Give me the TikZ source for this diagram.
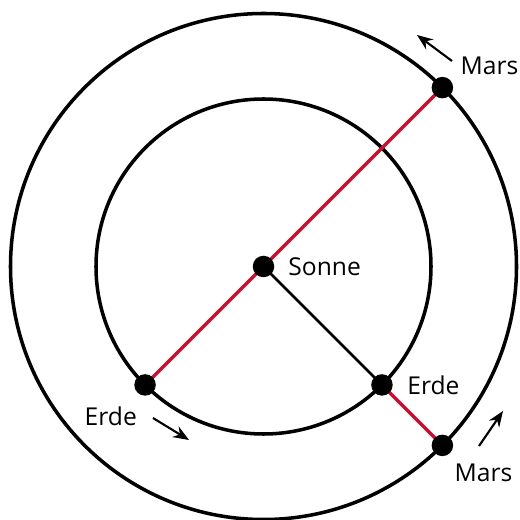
\documentclass[tikz,border=0pt]{standalone}
\usepackage{fontspec}
\setmainfont{Open Sans}
\usepackage{xcolor}
\usetikzlibrary{arrows.meta, positioning}

\definecolor{orbitred}{RGB}{200,16,46}

\begin{document}
\begin{tikzpicture}[
    every node/.style={font=\fontsize{14}{16}\selectfont},
    orbit/.style={draw=black, line width=2pt},
    planet/.style={
        circle,
        fill=black,
        inner sep=0pt,
        minimum size=0.43cm
    },
    tag/.style={inner sep=0pt},
    sightline/.style={draw=orbitred, line width=2pt},
    radius/.style={draw=black, line width=1.5pt},
    motion/.style={line width=1.2pt, -{Stealth[length=9pt, width=7pt]}}
]
\useasboundingbox (-5.27,-5.07) rectangle (5.11,5.33);

% Orbits
\draw[orbit] (0,0) circle (5.06);
\draw[orbit] (0,0) circle (3.35);

\coordinate (sun)   at (0,0);
\coordinate (mA)    at (45:5.06);
\coordinate (eA)    at (225:3.35);
\coordinate (eB)    at (-45:3.35);
\coordinate (mB)    at (-45:5.06);

% Lines
\draw[sightline] (eA) -- (mA);
\draw[radius] (sun) -- (eB);
\draw[sightline] (eB) -- (mB);

\node (sonne) [planet] at (sun) {};
\node (marsA) [planet] at (mA) {};
\node (erdeA) [planet] at (eA) {};
\node (erdeB) [planet] at (eB) {};
\node (marsB) [planet] at (mB) {};

\node (sonneLbl) [tag, right=0.27cm of sonne] {Sonne};
\node (erdeBLbl) [tag, right=0.28cm of erdeB] {Erde};
\node (marsALbl) [tag, above right=0.1cm and 0.2cm of marsA] {Mars};
\node (marsBLbl) [tag, below right=0.2cm and 0.08cm of marsB] {Mars};
\node (erdeALbl) [tag, below left=0.28cm and 0cm of erdeA] {Erde};

% Arrows
\coordinate (arrA0) at (3.77,4.11);
\coordinate (arrA1) at (3.07,4.63);
\coordinate (arrB0) at (-2.21,-3.03);
\coordinate (arrB1) at (-1.49,-3.47);
\coordinate (arrC0) at (4.31,-3.59);
\coordinate (arrC1) at (4.79,-2.89);

\draw[motion] (arrA0) -- (arrA1);
\draw[motion] (arrB0) -- (arrB1);
\draw[motion] (arrC0) -- (arrC1);

\end{tikzpicture}
\end{document}
